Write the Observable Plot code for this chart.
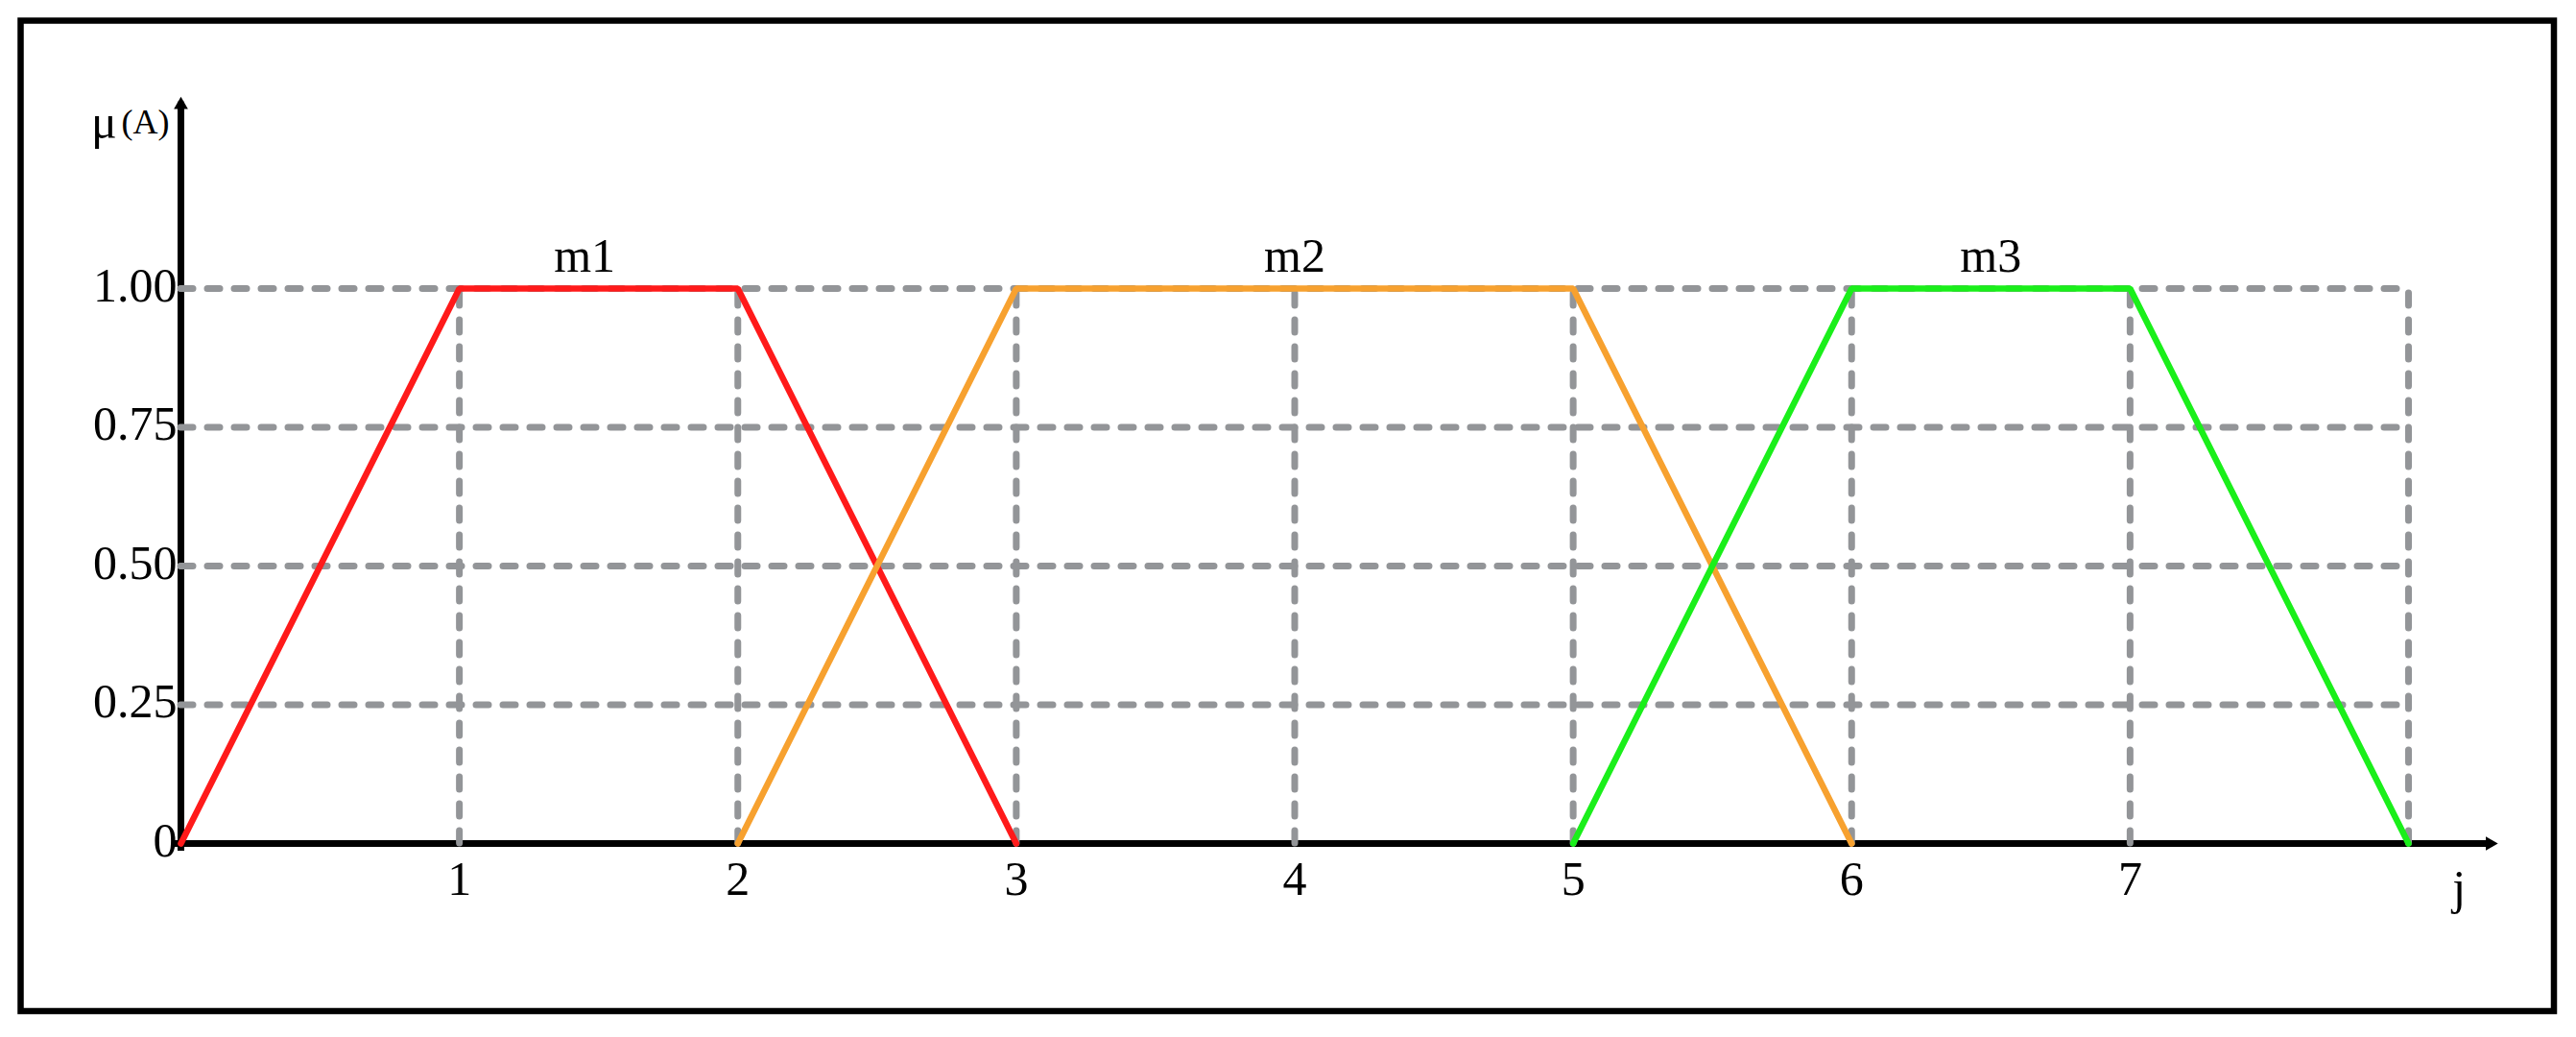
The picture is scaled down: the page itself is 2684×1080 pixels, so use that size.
<!DOCTYPE html>
<html>
<head>
<meta charset="utf-8">
<script src="https://cdn.jsdelivr.net/npm/d3@7"></script>
<script src="https://cdn.jsdelivr.net/npm/@observablehq/plot@0.6"></script>
<style>
  html, body { margin: 0; padding: 0; background: #fff; }
  #chart svg { display: block; }
</style>
</head>
<body>
<div id="chart"></div>
<script>
// ---- data ----
const seriesNames = ["m1", "m2", "m3"];
const seriesColors = ["#ff1a1a", "#f7a12f", "#1aef1a"];
const m1X = [0, 1, 2, 3];
const m1Y = [0, 1, 1, 0];
const m2X = [2, 3, 5, 6];
const m2Y = [0, 1, 1, 0];
const m3X = [5, 6, 7, 8];
const m3Y = [0, 1, 1, 0];
const labelX = [1.45, 4, 6.5];
const labelY = [1, 1, 1];
const xTicks = [1, 2, 3, 4, 5, 6, 7];
const yTicks = [0, 0.25, 0.5, 0.75, 1];
const xGrid = [1, 2, 3, 4, 5, 6, 7, 8];
const yGrid = [0.25, 0.5, 0.75, 1];
const xAxisEnd = 8.33;
const yAxisEnd = 1.35;
const xAxisTitle = "j";
const yAxisTitleMain = "μ";
const yAxisTitleSub = "(A)";

// ---- build table ----
const seriesXs = [m1X, m2X, m3X];
const seriesYs = [m1Y, m2Y, m3Y];
const rows = [];
seriesNames.forEach((name, i) => {
  seriesXs[i].forEach((x, k) => rows.push({series: name, x, y: seriesYs[i][k]}));
});
const labels = seriesNames.map((name, i) => ({name, x: labelX[i], y: labelY[i]}));

const FONT = "Liberation Serif, Times New Roman, serif";
const FS = 50;
const gridStyle = {stroke: "#939598", strokeWidth: 7, strokeDasharray: "13,15", strokeLinecap: "round"};

const chart = Plot.plot({
  width: 2684,
  height: 1080,
  marginLeft: 188,
  marginRight: 175,
  marginTop: 300,
  marginBottom: 202,
  style: {fontFamily: FONT, fontSize: FS + "px", background: "#fff", color: "#000"},
  x: {domain: [0, 8]},
  y: {domain: [0, 1]},
  color: {domain: seriesNames, range: seriesColors},
  marks: [
    // axis lines
    Plot.ruleY([0], {x1: 0, x2: xAxisEnd, stroke: "#000", strokeWidth: 7, dx: -8}),
    Plot.ruleX([0], {y1: 0, y2: yAxisEnd, stroke: "#000", strokeWidth: 7, dy: 8}),
    Plot.dot([{x: xAxisEnd, y: 0}], {x: "x", y: "y", symbol: "triangle2", r: 7, rotate: 90, fill: "#000", stroke: null, dx: -11}),
    Plot.dot([{x: 0, y: yAxisEnd}], {x: "x", y: "y", symbol: "triangle2", r: 7, rotate: 0, fill: "#000", stroke: null, dy: 11}),
    // grid
    Plot.ruleY(yGrid, {y: d => d, x1: 0, x2: 8, ...gridStyle}),
    Plot.ruleX(xGrid, {x: d => d, y1: 0, y2: 1, ...gridStyle}),
    // tick labels
    Plot.axisX(xTicks, {tickSize: 0, tickPadding: 18, fontSize: FS, fontFamily: FONT, label: null,
      tickFormat: d => String(d)}),
    Plot.axisY(yTicks, {tickSize: 0, tickPadding: 4, fontSize: FS, fontFamily: FONT, label: null,
      tickFormat: d => d === 0 ? "0" : d.toFixed(2), dy: -3}),
    // membership functions
    Plot.line(rows, {x: "x", y: "y", z: "series", stroke: "series", strokeWidth: 6.5, strokeLinejoin: "miter"}),
    // series labels
    Plot.text(labels, {x: "x", y: "y", text: "name", fontSize: FS, fontFamily: FONT, fill: "#000",
      textAnchor: "middle", lineAnchor: "bottom", dy: -18}),
    // axis titles
    Plot.text([xAxisTitle], {x: xAxisEnd, y: 0, text: d => d, fontSize: FS, fontFamily: FONT, fill: "#000",
      textAnchor: "middle", lineAnchor: "middle", dx: -43, dy: 46}),
    Plot.text([yAxisTitleMain], {x: 0, y: yAxisEnd, text: d => d, fontSize: 50, fontFamily: FONT, fill: "#000",
      textAnchor: "middle", lineAnchor: "middle", dx: -80, dy: 30}),
    Plot.text([yAxisTitleSub], {x: 0, y: yAxisEnd, text: d => d, fontSize: 36, fontFamily: FONT, fill: "#000",
      textAnchor: "middle", lineAnchor: "middle", dx: -37, dy: 29})
  ]
});

// outer border of the figure
d3.select(chart).append("rect")
  .attr("x", 21.5).attr("y", 21.5)
  .attr("width", 2639.5).attr("height", 1031.5)
  .attr("fill", "none").attr("stroke", "#000").attr("stroke-width", 6.5);

document.getElementById("chart").appendChild(chart);
</script>
</body>
</html>
